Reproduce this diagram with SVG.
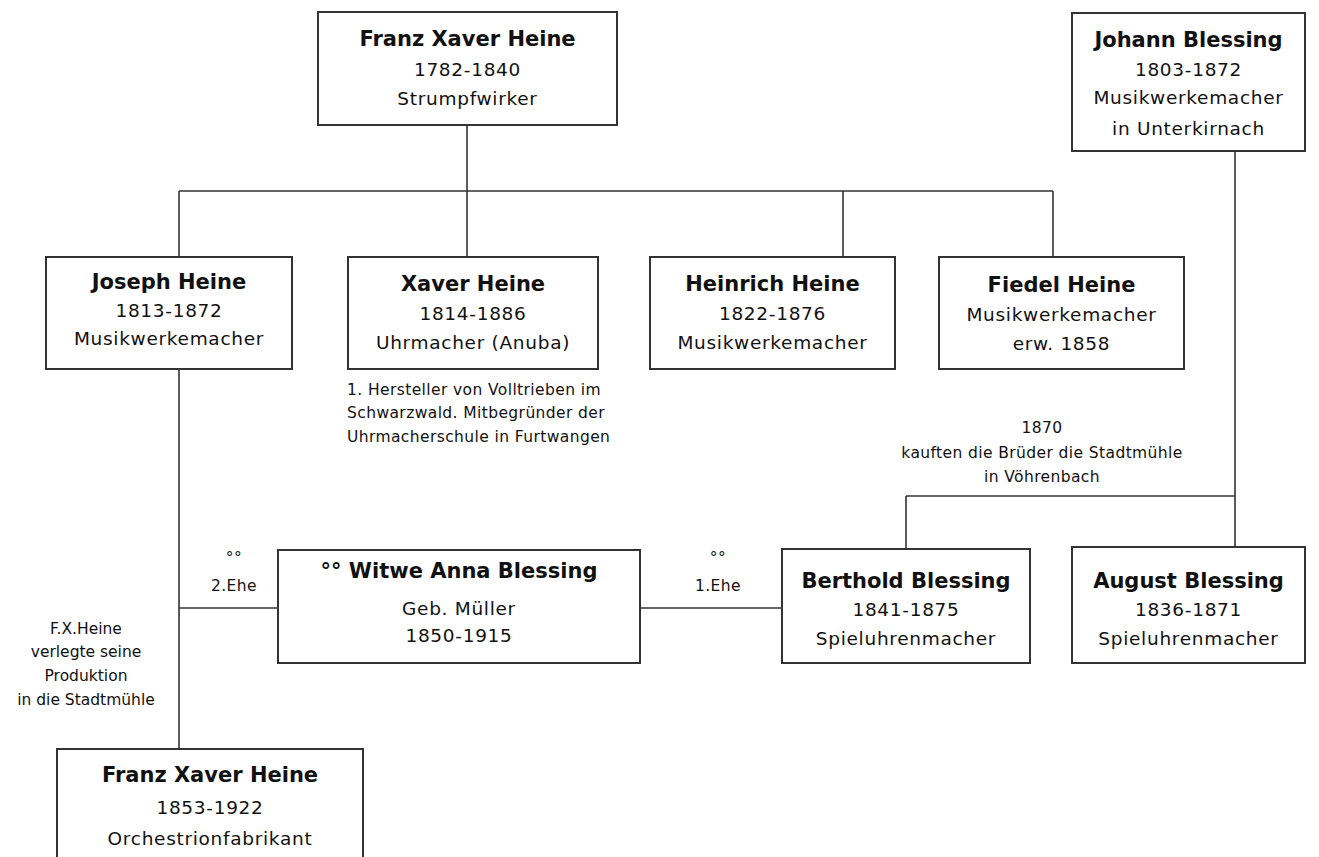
<svg xmlns="http://www.w3.org/2000/svg" width="1319" height="857" viewBox="0 0 1319 857">
<style>
.box{fill:#fff;stroke:#333;stroke-width:2}
.ln{fill:none;stroke:#333;stroke-width:1.6}
text{font-family:"DejaVu Sans","Liberation Sans",sans-serif;fill:#111;text-anchor:middle}
.n{font-weight:bold;font-size:21px}
.t{font-size:18.5px;letter-spacing:0.7px}
.s{font-size:15.5px;letter-spacing:0.4px}
.l{text-anchor:start}
</style>
<rect width="1319" height="857" fill="#fff"/>
<g id="connectors">
<path class="ln" d="M467,125V257M179,191H1053M179,191V257M843,191V257M1053,191V257"/>
<path class="ln" d="M1235,151V547M906,496H1235M906,496V549"/>
<path class="ln" d="M179,370V749M179,608H278M640,608H782"/>
</g>
<g id="franz-xaver-heine-1782">
<rect class="box" x="318" y="12" width="299" height="113"/>
<text class="n" x="467.5" y="46">Franz Xaver Heine</text>
<text class="t" x="467.5" y="76">1782-1840</text>
<text class="t" x="467.5" y="105">Strumpfwirker</text>
</g>
<g id="johann-blessing">
<rect class="box" x="1072" y="13" width="233" height="138"/>
<text class="n" x="1188.5" y="47">Johann Blessing</text>
<text class="t" x="1188.5" y="76">1803-1872</text>
<text class="t" x="1188.5" y="104">Musikwerkemacher</text>
<text class="t" x="1188.5" y="135">in Unterkirnach</text>
</g>
<g id="joseph-heine">
<rect class="box" x="46" y="257" width="246" height="112"/>
<text class="n" x="169" y="289">Joseph Heine</text>
<text class="t" x="169" y="317">1813-1872</text>
<text class="t" x="169" y="345">Musikwerkemacher</text>
</g>
<g id="xaver-heine">
<rect class="box" x="348" y="257" width="250" height="112"/>
<text class="n" x="473" y="291">Xaver Heine</text>
<text class="t" x="473" y="320">1814-1886</text>
<text class="t" x="473" y="349">Uhrmacher (Anuba)</text>
</g>
<g id="heinrich-heine">
<rect class="box" x="650" y="257" width="245" height="112"/>
<text class="n" x="772.5" y="291">Heinrich Heine</text>
<text class="t" x="772.5" y="320">1822-1876</text>
<text class="t" x="772.5" y="349">Musikwerkemacher</text>
</g>
<g id="fiedel-heine">
<rect class="box" x="939" y="257" width="245" height="112"/>
<text class="n" x="1061.5" y="292">Fiedel Heine</text>
<text class="t" x="1061.5" y="321">Musikwerkemacher</text>
<text class="t" x="1061.5" y="350">erw. 1858</text>
</g>
<g id="note-xaver">
<text class="s l" x="347" y="395">1. Hersteller von Volltrieben im</text>
<text class="s l" x="347" y="418">Schwarzwald. Mitbegründer der</text>
<text class="s l" x="347" y="442">Uhrmacherschule in Furtwangen</text>
</g>
<g id="note-1870">
<text class="s" x="1042" y="433">1870</text>
<text class="s" x="1042" y="458">kauften die Brüder die Stadtmühle</text>
<text class="s" x="1042" y="482">in Vöhrenbach</text>
</g>
<g id="witwe-anna-blessing">
<rect class="box" x="278" y="550" width="362" height="113"/>
<text class="n" x="459" y="578">°° Witwe Anna Blessing</text>
<text class="t" x="459" y="615">Geb. Müller</text>
<text class="t" x="459" y="642">1850-1915</text>
</g>
<g id="berthold-blessing">
<rect class="box" x="782" y="549" width="248" height="114"/>
<text class="n" x="906" y="588">Berthold Blessing</text>
<text class="t" x="906" y="616">1841-1875</text>
<text class="t" x="906" y="645">Spieluhrenmacher</text>
</g>
<g id="august-blessing">
<rect class="box" x="1072" y="547" width="233" height="116"/>
<text class="n" x="1188.5" y="588">August Blessing</text>
<text class="t" x="1188.5" y="616">1836-1871</text>
<text class="t" x="1188.5" y="645">Spieluhrenmacher</text>
</g>
<g id="marriage-labels">
<text class="s" x="234" y="563">°°</text>
<text class="s" x="234" y="591">2.Ehe</text>
<text class="s" x="718" y="563">°°</text>
<text class="s" x="718" y="591">1.Ehe</text>
</g>
<g id="note-fx">
<text class="s" x="86" y="634" style="letter-spacing:0">F.X.Heine</text>
<text class="s" x="86" y="657" style="letter-spacing:0">verlegte seine</text>
<text class="s" x="86" y="681" style="letter-spacing:0">Produktion</text>
<text class="s" x="86" y="705" style="letter-spacing:0">in die Stadtmühle</text>
</g>
<g id="franz-xaver-heine-1853">
<rect class="box" x="57" y="749" width="306" height="120"/>
<text class="n" x="210" y="782">Franz Xaver Heine</text>
<text class="t" x="210" y="814">1853-1922</text>
<text class="t" x="210" y="845">Orchestrionfabrikant</text>
</g>
</svg>
